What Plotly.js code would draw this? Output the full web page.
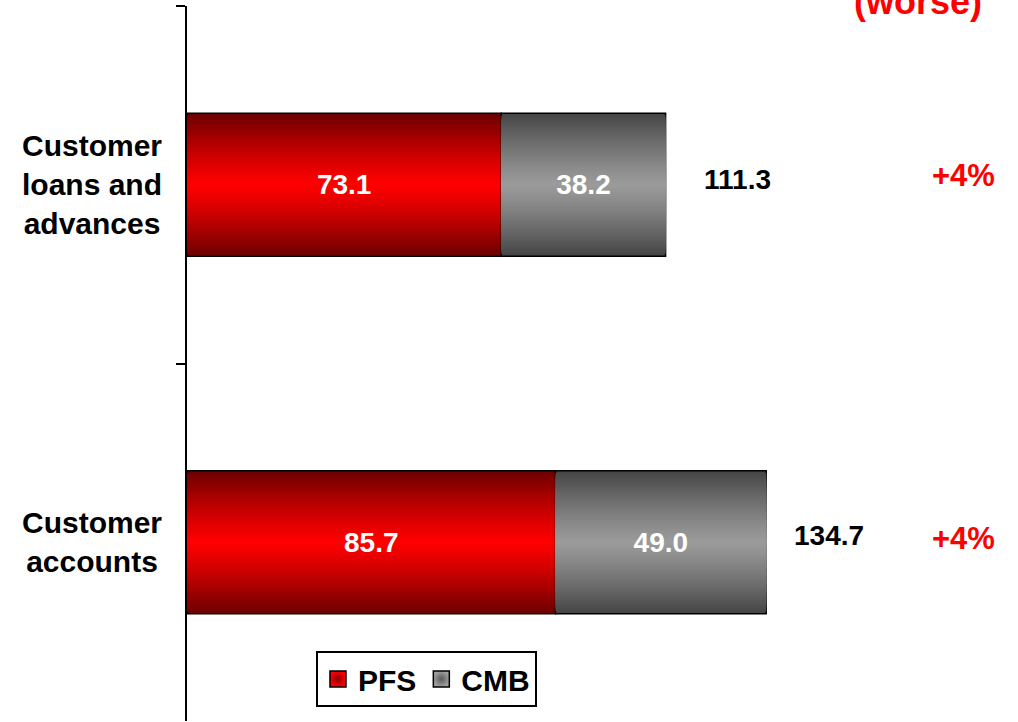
<!DOCTYPE html>
<html>
<head>
<meta charset="utf-8">
<script src="https://cdn.plot.ly/plotly-3.0.1.min.js"></script>
<style>html,body{margin:0;padding:0;background:#fff;}#chart{width:1018px;height:722px;}</style>
</head>
<body>
<div id="chart"></div>
<script>
// ---- data ----
var categories = ["Customer<br>loans and<br>advances", "Customer<br>accounts"];
var pfsValues = [73.1, 85.7];
var cmbValues = [38.2, 49.0];
var changeLabels = ["+4%", "+4%"];
var seriesNames = ["PFS", "CMB"];
var changeHeader = "(worse)";

// ---- styles ----
var FONT = '"Liberation Sans", Arial, sans-serif';
var BAR_W = 0.4;
var N = 32;
var redEdge = [110, 0, 0], redCenter = [255, 0, 0];
var grayEdge = [70, 70, 70], grayCenter = [155, 155, 155];

function mix(edge, center, d) {
  var f = Math.pow(d, 1.2);
  return 'rgb(' + [0,1,2].map(function(k){return Math.round(center[k] + (edge[k]-center[k])*f);}).join(',') + ')';
}

var totals = pfsValues.map(function(v, i){ return v + cmbValues[i]; });
var traces = [];

function gradientBars(vals, base, edge, center) {
  for (var i = 0; i < N; i++) {
    var d = 1 - i / N;
    traces.push({
      type: 'bar', orientation: 'h',
      x: vals, y: categories, base: base,
      width: BAR_W * d,
      marker: {color: mix(edge, center, d), line: {color: '#000', width: i === 0 ? 1.5 : 0}},
      showlegend: false, hoverinfo: 'skip'
    });
  }
}
gradientBars(pfsValues, pfsValues.map(function(){return 0;}), redEdge, redCenter);
gradientBars(cmbValues, pfsValues, grayEdge, grayCenter);

// label layers (transparent bars carrying the value text)
traces.push({
  type: 'bar', orientation: 'h', x: pfsValues, y: categories, base: pfsValues.map(function(){return 0;}),
  width: BAR_W, marker: {color: 'rgba(0,0,0,0)'},
  text: pfsValues.map(function(v){return v.toFixed(1);}), textposition: 'inside', insidetextanchor: 'middle',
  textfont: {family: FONT, size: 28, color: '#fff', weight: 'bold'}, showlegend: false, hoverinfo: 'skip'
});
traces.push({
  type: 'bar', orientation: 'h', x: cmbValues, y: categories, base: pfsValues,
  width: BAR_W, marker: {color: 'rgba(0,0,0,0)'},
  text: cmbValues.map(function(v){return v.toFixed(1);}), textposition: 'inside', insidetextanchor: 'middle',
  textfont: {family: FONT, size: 28, color: '#fff', weight: 'bold'}, showlegend: false, hoverinfo: 'skip'
});

// legend entries
traces.push({type: 'scatter', mode: 'markers', x: [null], y: [null], name: seriesNames[0],
  marker: {symbol: 'square', size: 18, color: '#ff0000', line: {color: '#000', width: 1.5}, gradient: {type: 'radial', color: '#8a0000'}}});
traces.push({type: 'scatter', mode: 'markers', x: [null], y: [null], name: seriesNames[1],
  marker: {symbol: 'square', size: 18, color: '#a0a0a0', line: {color: '#000', width: 1.5}, gradient: {type: 'radial', color: '#5a5a5a'}}});

var annotations = [];
var totalShiftX = [36, 26], totalShiftY = [5, 7];
var changeShiftY = [9, 4];
categories.forEach(function(c, i) {
  annotations.push({xref: 'paper', x: -0.1143, yref: 'y', y: c, text: c, showarrow: false,
    xanchor: 'center', align: 'center', font: {family: FONT, size: 30, color: '#000', weight: 'bold'}});
  annotations.push({xref: 'x', x: totals[i], yref: 'y', y: c, text: totals[i].toFixed(1), showarrow: false,
    xanchor: 'left', xshift: totalShiftX[i], yshift: totalShiftY[i], font: {family: FONT, size: 28, color: '#000', weight: 'bold'}});
  annotations.push({xref: 'paper', x: 0.9344, yref: 'y', y: c, text: changeLabels[i], showarrow: false,
    xanchor: 'center', yshift: changeShiftY[i], font: {family: FONT, size: 31, color: '#ff0000', weight: 'bold'}});
});
annotations.push({xref: 'paper', x: 0.8797, yref: 'paper', y: 1.006, text: changeHeader, showarrow: false,
  xanchor: 'center', yanchor: 'middle', font: {family: FONT, size: 36, color: '#ff0000', weight: 'bold'}});

var layout = {
  width: 1018, height: 722,
  margin: {l: 187, r: 0, t: 6, b: 1, pad: 0},
  paper_bgcolor: '#fff', plot_bgcolor: '#fff',
  barmode: 'overlay',
  showlegend: true,
  legend: {orientation: 'h', x: 0.1552, y: 0.0979, xanchor: 'left', yanchor: 'top',
    bgcolor: '#fff', bordercolor: '#000', borderwidth: 2,
    font: {family: FONT, size: 30, color: '#000', weight: 'bold'}},
  xaxis: {range: [0, 831 / 4.30], visible: false, fixedrange: true},
  yaxis: {type: 'category', categoryarray: categories, range: [1.5, -0.5],
    showline: true, linecolor: '#000', linewidth: 2, ticks: 'outside', tickson: 'boundaries',
    ticklen: 9, tickwidth: 2, tickcolor: '#000', showticklabels: false, showgrid: false, zeroline: false},
  annotations: annotations
};

Plotly.newPlot('chart', traces, layout, {displayModeBar: false, staticPlot: true});
</script>
</body>
</html>
